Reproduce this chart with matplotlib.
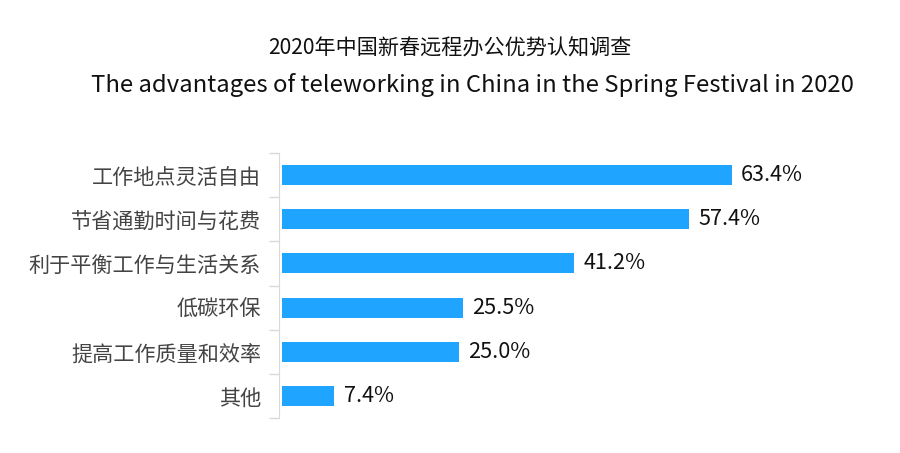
import matplotlib
matplotlib.use("Agg")
import matplotlib.pyplot as plt
from matplotlib.ticker import FixedLocator

plt.rcParams['font.family'] = ['Noto Sans CJK SC', 'DejaVu Sans']

categories = ["工作地点灵活自由", "节省通勤时间与花费", "利于平衡工作与生活关系", "低碳环保", "提高工作质量和效率", "其他"]
values = [63.4, 57.4, 41.2, 25.5, 25.0, 7.4]
title_cn = "2020年中国新春远程办公优势认知调查"
title_en = "The advantages of teleworking in China in the Spring Festival in 2020"

fig = plt.figure(figsize=(9, 4.53), dpi=100)
ax = fig.add_axes([282/900, 1 - 418/453, (850-282)/900, (418-153)/453])

n = len(categories)
ypos = list(range(n))
ax.barh(ypos, values, height=0.45, color="#1FA5FF")
ax.set_ylim(n - 0.5, -0.5)
ax.set_xlim(0, 80.1)
ax.set_yticks(ypos)
ax.set_yticklabels(categories)
ax.yaxis.set_minor_locator(FixedLocator([i - 0.5 for i in range(n + 1)]))
ax.tick_params(axis='y', which='major', length=0, pad=13, labelsize=15.2, labelcolor="#444444")
ax.tick_params(axis='y', which='minor', length=7, color="#d9d9d9", width=1)
ax.set_xticks([])
for s in ["top", "right", "bottom"]:
    ax.spines[s].set_visible(False)
ax.spines["left"].set_color("#d9d9d9")
ax.spines["left"].set_position(("outward", 2))

for y, v in zip(ypos, values):
    ax.text(v + 1.3, y, f"{v:.1f}%", va="center", ha="left", fontsize=15.6, color="#111111")

fig.text(0.5, 1 - 48/453, title_cn, ha="center", va="center", fontsize=15.2, color="#111111")
fig.text(472/900, 1 - 85/453, title_en, ha="center", va="center", fontsize=17.2, color="#111111")

fig.savefig("out.png", dpi=100)
